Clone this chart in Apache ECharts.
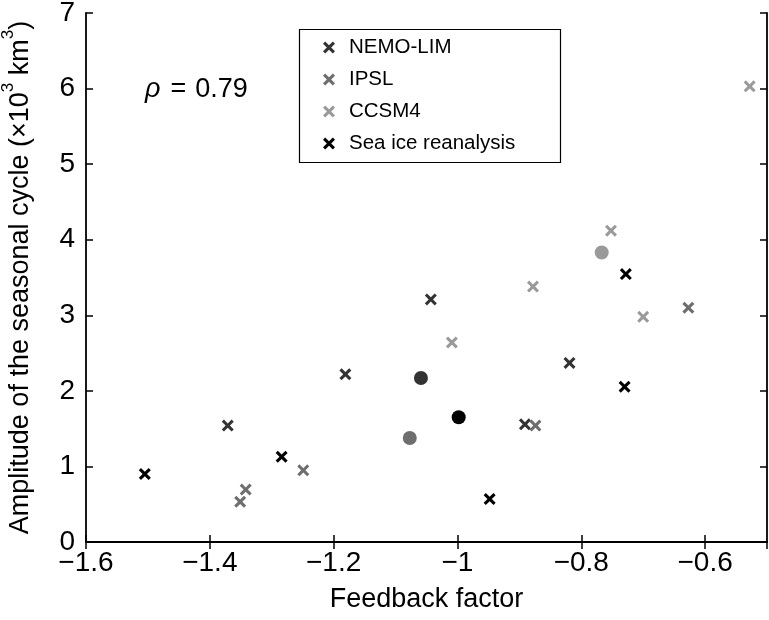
<!DOCTYPE html>
<html><head><meta charset="utf-8">
<script src="https://cdn.jsdelivr.net/npm/echarts@6/dist/echarts.min.js"></script>
<style>html,body{margin:0;padding:0;background:#fff}#c{width:769px;height:620px}</style>
</head><body><div id="c"></div>
<script>
// Data (feedback factor, amplitude of seasonal cycle ×10^3 km^3)
const nemoX = [-1.043, -1.181, -1.371, -0.891, -0.819];
const nemoY = [3.21, 2.22, 1.54, 1.557, 2.37];
const ipslX = [-1.249, -1.342, -1.351, -0.874, -0.627];
const ipslY = [0.948, 0.694, 0.533, 1.54, 3.10];
const ccsmX = [-1.009, -0.878, -0.752, -0.700, -0.528];
const ccsmY = [2.64, 3.38, 4.12, 2.98, 6.03];
const reanX = [-1.505, -1.284, -0.948, -0.728, -0.730];
const reanY = [0.90, 1.128, 0.569, 3.545, 2.054];
const meanNames = ['NEMO-LIM mean', 'IPSL mean', 'CCSM4 mean', 'Sea ice reanalysis mean'];
const meanX = [-1.059, -1.077, -0.767, -0.998];
const meanY = [2.17, 1.376, 3.83, 1.65];
const seriesNames = ['NEMO-LIM', 'IPSL', 'CCSM4', 'Sea ice reanalysis'];
const xTicks = [-1.6, -1.4, -1.2, -1, -0.8, -0.6];
const yTicks = [0, 1, 2, 3, 4, 5, 6, 7];
const rhoText = '0.79';

const colors = ['#333333', '#6e6e6e', '#9a9a9a', '#000000'];
const crossPath = 'path://M0,1.8L1.8,0L5,3.2L8.2,0L10,1.8L6.8,5L10,8.2L8.2,10L5,6.8L1.8,10L0,8.2L3.2,5Z';
const font = '"Liberation Sans", Arial, Helvetica, sans-serif';

const zip = (a, b) => a.map((v, i) => [v, b[i]]);
const groups = [[nemoX, nemoY], [ipslX, ipslY], [ccsmX, ccsmY], [reanX, reanY]];

const fmtX = v => {
  const r = Math.round(v * 10) / 10;
  if (!xTicks.some(t => Math.abs(t - r) < 1e-6)) return '';
  return String(r).replace('-', '\u2212');
};
const fmtY = v => {
  const r = Math.round(v);
  return yTicks.includes(r) ? String(r) : '';
};

const tickStyle = {show: true, inside: true, length: 7, lineStyle: {color: '#000', width: 1.5}};
const lineStyle = {show: true, lineStyle: {color: '#000', width: 1.8}};

const series = [];
groups.forEach((g, i) => {
  series.push({
    name: seriesNames[i], type: 'scatter', symbol: crossPath, symbolSize: 12,
    itemStyle: {color: colors[i], opacity: 1}, data: zip(g[0], g[1]), z: 3
  });
});
series.push({
  name: 'means', type: 'scatter', symbol: 'circle', symbolSize: 14,
  data: meanX.map((x, i) => ({name: meanNames[i], value: [x, meanY[i]], itemStyle: {color: colors[i], opacity: 1}})),
  itemStyle: {opacity: 1},
  z: 4
});

const chart = echarts.init(document.getElementById('c'), null, {renderer: 'canvas'});
chart.setOption({
  animation: false,
  backgroundColor: '#fff',
  textStyle: {fontFamily: font},
  grid: {left: 86, right: 2, top: 13, bottom: 78, containLabel: false, outerBoundsMode: 'none'},
  xAxis: [{
    type: 'value', min: -1.6, max: -0.5, interval: 0.2, position: 'bottom',
    axisLine: lineStyle, axisTick: tickStyle, splitLine: {show: false},
    axisLabel: {formatter: fmtX, fontSize: 28, color: '#000', margin: 7, fontFamily: font, showMaxLabel: false},
    name: 'Feedback factor', nameLocation: 'middle', nameGap: 44,
    nameTextStyle: {fontSize: 27, color: '#000', fontFamily: font}
  }, {
    type: 'value', min: -1.6, max: -0.5, interval: 0.2, position: 'top',
    axisLine: lineStyle, axisTick: tickStyle, axisLabel: {show: false}, splitLine: {show: false}
  }],
  yAxis: [{
    type: 'value', min: 0, max: 7, interval: 1, position: 'left',
    axisLine: lineStyle, axisTick: tickStyle, splitLine: {show: false},
    axisLabel: {formatter: fmtY, fontSize: 28, color: '#000', margin: 11, fontFamily: font},
    name: '{a|Amplitude of the seasonal cycle (\u00d710}{s|3}{a| km}{s|3}{a|)}',
    nameLocation: 'middle', nameGap: 52,
    nameTextStyle: {
      fontSize: 27, color: '#000', fontFamily: font,
      rich: {
        a: {fontSize: 27, color: '#000', fontFamily: font, lineHeight: 34, verticalAlign: 'bottom'},
        s: {fontSize: 17, color: '#000', fontFamily: font, lineHeight: 34, verticalAlign: 'top'}
      }
    }
  }, {
    type: 'value', min: 0, max: 7, interval: 1, position: 'right',
    axisLine: lineStyle, axisTick: tickStyle, axisLabel: {show: false}, splitLine: {show: false}
  }],
  legend: {
    data: seriesNames, orient: 'vertical', left: 323, top: 37,
    itemWidth: 12, itemHeight: 12, itemGap: 11, padding: 0,
    textStyle: {fontSize: 20.5, color: '#000', lineHeight: 20, padding: [0, 0, 0, 9], fontFamily: font},
    selectedMode: false
  },
  graphic: [{
    type: 'rect', left: 297, top: 27, shape: {width: 261, height: 133},
    style: {fill: 'none', stroke: '#000', lineWidth: 1.2}, z: 1
  }, {
    type: 'text', left: 145, top: 76,
    style: {
      text: '{i|\u03c1}{e|=}{n|' + rhoText + '}',
      fill: '#000',
      rich: {
        i: {fontStyle: 'italic', fontSize: 27, fontFamily: font, fill: '#000'},
        e: {fontSize: 27, fontFamily: font, fill: '#000', padding: [0, 9, 0, 10]},
        n: {fontSize: 27, fontFamily: font, fill: '#000'}
      }
    }
  }],
  series: series
});
</script></body></html>
